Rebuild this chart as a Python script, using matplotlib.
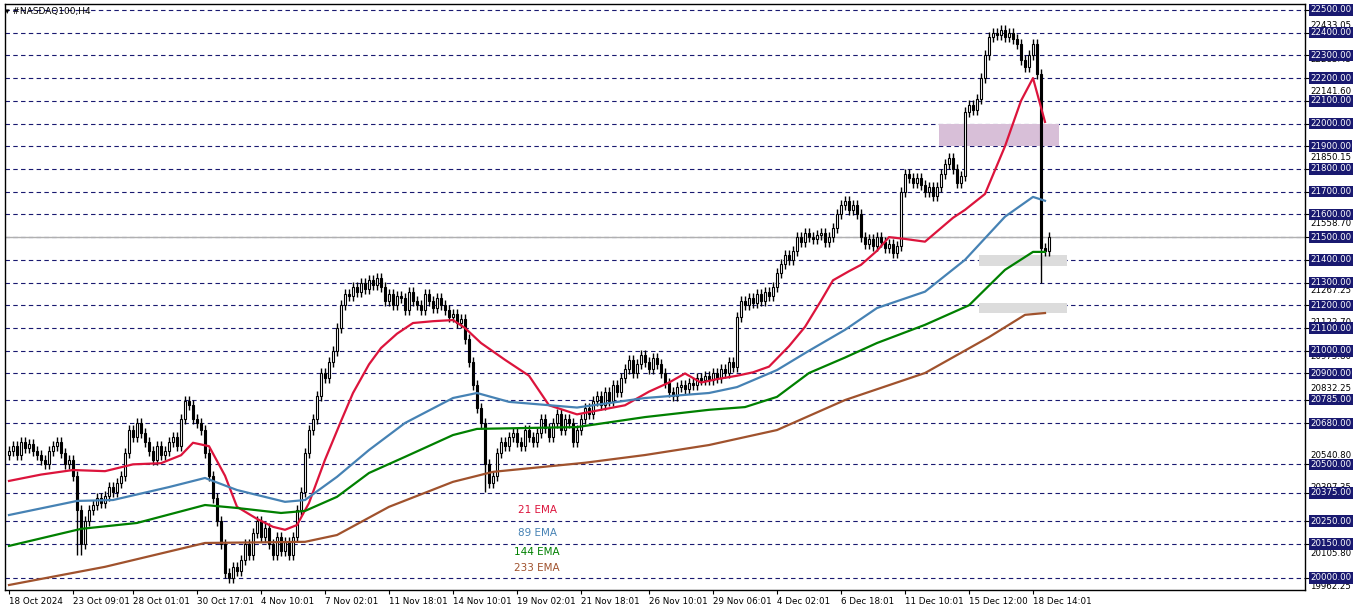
import matplotlib
matplotlib.use("Agg")
import matplotlib.pyplot as plt
import matplotlib.transforms as mtrans
import numpy as np

closes = [20560,20580,20540,20600,20570,20590,20560,
 20540,20520,20500,20560,20580,20600,20550,20500,20520,20450,20300,
 20150,20250,20300,20320,20350,20330,20360,20400,20380,20420,20450,
 20550,20650,20620,20680,20640,20600,
 20560,20520,20580,20540,20560,20600,20620,20580,
 20700,20780,20760,
 20700,20680,20650,
 20550,20450,20350,20250,20150,
 20020,20000,20050,20030,
 20080,20150,20100,20200,20250,20180,20220,
 20150,20100,20180,20120,20160,20100,20180,
 20300,20380,
 20550,20650,20700,
 20800,20900,20880,20950,21000,
 21100,21200,21250,
 21240,21280,21260,21300,21270,21310,21290,21320,21280,
 21220,21250,21200,21240,21230,21180,21260,21220,21200,21180,21250,21220,21190,21230,21200,
 21180,21150,21160,21120,21140,
 21050,20950,20850,20750,20680,
 20500,20420,20450,
 20550,20600,20580,20620,20640,20600,20580,20650,20620,20600,
 20640,20700,20660,20620,20680,20720,20650,20700,20680,20600,20650,20700,
 20750,20720,20780,20800,20760,20820,20780,20850,20820,20880,
 20920,20960,20900,20940,20980,20950,20920,20970,20940,20900,
 20860,20820,20800,20840,20850,20830,20860,20850,20880,20870,
 20890,20870,20900,20880,20920,20900,20950,20930,
 21150,21220,
 21200,21230,21210,21250,21220,21260,21240,21280,
 21340,21380,21420,21400,21440,
 21500,21480,21520,21500,21490,21510,21520,21480,21500,21540,
 21600,21640,21660,21620,21640,21600,
 21500,21470,21490,21460,21500,21480,21450,21470,21430,21460,
 21700,21780,
 21760,21740,21760,21730,21700,21720,21680,21720,
 21780,21820,21850,21800,21740,21770,
 22050,22080,22060,22110,
 22200,22300,22380,22400,
 22390,22410,22380,22400,22370,22350,
 22280,22250,22300,
 22350,22220,
 21450,
 21440,21500]
first_open = 20540
wick = 22
long_wicks = {258: 21300, 17: 20100, 18: 20100, 119: 20380}

ema_bars = {
 'ema21': ([0,8,16,24,31,38,43,46,50,54,57,62,66,69,72,75,79,83,86,90,93,97,101,106,111,114,118,124,130,135,142,148,154,160,165,169,173,177,182,186,190,195,199,203,206,210,213,217,220,224,229,233,236,239,244,249,253,256,259],
           [20427,20455,20475,20470,20500,20505,20540,20595,20580,20450,20313,20260,20225,20212,20233,20330,20520,20690,20814,20940,21012,21075,21122,21130,21135,21100,21034,20960,20890,20760,20720,20740,20760,20820,20860,20900,20860,20875,20890,20905,20930,21020,21105,21220,21310,21350,21378,21440,21500,21492,21480,21540,21585,21620,21690,21900,22100,22200,22007]),
 'ema89': ([0,17,26,40,49,57,69,74,82,90,99,111,117,125,142,159,175,182,192,200,209,217,229,239,249,256,259],
           [20277,20339,20343,20400,20440,20387,20335,20343,20445,20563,20682,20792,20814,20775,20750,20792,20814,20840,20915,21000,21092,21188,21260,21400,21590,21677,21660]),
 'ema144': ([0,18,32,49,57,68,74,82,90,99,111,117,142,159,175,184,192,200,209,217,229,240,249,256,259],
            [20141,20216,20242,20321,20308,20286,20295,20357,20462,20533,20629,20656,20664,20708,20740,20752,20797,20902,20970,21034,21114,21200,21356,21435,21435]),
 'ema233': ([0,24,49,74,82,95,111,121,144,159,175,192,209,229,245,254,259],
            [19969,20049,20154,20159,20189,20313,20423,20467,20507,20541,20585,20651,20783,20902,21060,21158,21166]),
}
ema_colors = {'ema21': '#dc143c', 'ema89': '#4682b4', 'ema144': '#008000', 'ema233': '#a0522d'}
ema_labels = ['21 EMA', '89 EMA', '144 EMA', '233 EMA']

grid_levels = [22500,22400,22300,22200,22100,22000,21900,21800,21700,21600,21500,21400,21300,
               21200,21100,21000,20900,20785,20680,20500,20375,20250,20150,20000]
plain_levels = [22433.05,22283.45,22141.60,21850.15,21558.70,21267.25,21122.70,20975.80,
                20832.25,20540.80,20397.35,20105.80,19962.25]
tick_bars = [0,16,31,47,63,79,95,111,127,143,160,176,192,208,224,240,256]
tick_labels = ['18 Oct 2024','23 Oct 09:01','28 Oct 01:01','30 Oct 17:01','4 Nov 10:01','7 Nov 02:01',
               '11 Nov 18:01','14 Nov 10:01','19 Nov 02:01','21 Nov 18:01','26 Nov 10:01','29 Nov 06:01',
               '4 Dec 02:01','6 Dec 18:01','11 Dec 10:01','15 Dec 12:00','18 Dec 14:01']

fig = plt.figure(figsize=(13.62, 6.11), dpi=100)
ax = fig.add_axes([5/1362, 21/611, 1300/1362, 586/611])
ax.set_xlim(-1, 324)
ax.set_ylim(19947, 22526)

for lv in grid_levels:
    ax.axhline(lv, color='#191970', lw=0.8, ls=(0, (4, 3)), zorder=1)
ax.axhline(21500, color='#b0b0b0', lw=1.0, zorder=1.5)

ax.fill_between([232.5, 262.5], 21900, 22000, color='#d8bfd8', zorder=1.2, lw=0)
ax.fill_between([242.5, 264.5], 21375, 21420, color='#dcdcdc', zorder=1.2, lw=0)
ax.fill_between([242.5, 264.5], 21165, 21210, color='#dcdcdc', zorder=1.2, lw=0)

opens = [first_open] + closes[:-1]
x = np.arange(len(closes))
for i in x:
    o, c = opens[i], closes[i]
    hi = max(o, c) + wick
    lo = long_wicks.get(i, min(o, c) - wick)
    ax.vlines(i, lo, hi, color='black', lw=1, zorder=3)
    bull = c >= o
    h = max(abs(c - o), 4)
    ax.bar(i, h, bottom=min(o, c), width=0.7, facecolor='white' if bull else 'black',
           edgecolor='black', lw=0.8, zorder=4)

for k, (bx, vals) in ema_bars.items():
    ax.plot(bx, vals, color=ema_colors[k], lw=1.6, zorder=5)

for lbl, k, yy in zip(ema_labels, ['ema21','ema89','ema144','ema233'], [20299, 20198, 20114, 20044]):
    ax.text(132, yy, lbl, color=ema_colors[k], fontsize=7.5, ha='center', va='center')

ax.text(0.0, 0.995, '▾ #NASDAQ100,H4', transform=ax.transAxes, fontsize=6.5, va='top', ha='left')

ax.set_xticks(tick_bars)
ax.set_xticklabels(tick_labels, fontsize=6.3, ha='left')
ax.tick_params(axis='x', length=3, pad=2)
ax.set_yticks([])
for s in ax.spines.values():
    s.set_linewidth(1)

trans = mtrans.blended_transform_factory(ax.transAxes, ax.transData)
for lv in plain_levels:
    ax.text(1.004, lv, f'{lv:.2f}', transform=trans, fontsize=6.2, va='center', ha='left', color='black')
for lv in grid_levels:
    ax.text(1.004, lv, f'{lv:.2f}', transform=trans, fontsize=6.2, va='center', ha='left', color='white',
            bbox=dict(boxstyle='square,pad=0.15', fc='#191970', ec='none'))
    ax.plot([1.0, 1.003], [lv, lv], transform=trans, color='black', lw=0.8, clip_on=False)

fig.savefig('out.png', dpi=100)
